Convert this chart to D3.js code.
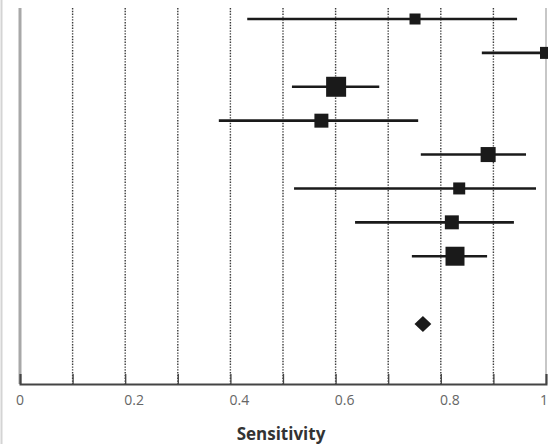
<!DOCTYPE html>
<html>
<head>
<meta charset="utf-8">
<script src="https://cdn.jsdelivr.net/npm/d3@7"></script>
<style>
  html, body { margin: 0; padding: 0; background: #fff; }
  svg { display: block; }
</style>
</head>
<body>
<svg id="chart" width="548" height="444"></svg>
<script>
// ---- data ----
const studies = ["Study 1", "Study 2", "Study 3", "Study 4", "Study 5", "Study 6", "Study 7", "Study 8"];
const sensitivity = [0.751, 1.0, 0.601, 0.573, 0.890, 0.835, 0.821, 0.827];
const ciLower = [0.432, 0.878, 0.517, 0.378, 0.762, 0.521, 0.637, 0.745];
const ciUpper = [0.945, 1.0, 0.683, 0.757, 0.962, 0.981, 0.939, 0.888];
const weights = [6.4, 7.6, 21.1, 10.3, 11.9, 7.6, 10.3, 19.0];
const pooledLabel = "Pooled";
const pooled = [0.766, 0.750, 0.782]; // estimate, lower, upper
const xTicks = [0, 0.2, 0.4, 0.6, 0.8, 1];
const xTickLabels = ["0", "0.2", "0.4", "0.6", "0.8", "1"];
const gridValues = [0.1, 0.2, 0.3, 0.4, 0.5, 0.6, 0.7, 0.8, 0.9];
const xTitle = "Sensitivity";

// ---- layout ----
const svg = d3.select("#chart");
const plotLeft = 20, plotRight = 546, plotTop = 8, axisY = 384;

const x = d3.scaleLinear().domain([0, 1]).range([plotLeft, plotRight]);
const y = d3.scalePoint().domain([...studies, "_gap", pooledLabel]).range([19, 324]);
const size = d3.scaleSqrt().domain([0, d3.max(weights)]).range([0, 20]);

// outer thin light border at far left
svg.append("line").attr("x1", 1.5).attr("x2", 1.5).attr("y1", 0).attr("y2", 444)
  .attr("stroke", "#d4d4d4").attr("stroke-width", 2);

// dotted grid lines
svg.append("g").selectAll("line").data(gridValues).join("line")
  .attr("x1", d => x(d)).attr("x2", d => x(d))
  .attr("y1", plotTop).attr("y2", axisY)
  .attr("stroke", "#3a3a3a").attr("stroke-width", 1.4)
  .attr("stroke-dasharray", "1.4,1.4");

// left vertical axis (gray)
svg.append("line").attr("x1", x(0)).attr("x2", x(0)).attr("y1", plotTop).attr("y2", axisY)
  .attr("stroke", "#a8a8a8").attr("stroke-width", 3);

// right border line
svg.append("line").attr("x1", x(1)).attr("x2", x(1)).attr("y1", plotTop).attr("y2", axisY)
  .attr("stroke", "#b5b5b5").attr("stroke-width", 1.5);

// x axis
const xAxis = d3.axisBottom(x)
  .tickValues(gridValues.concat([0, 1]))
  .tickSize(-10)
  .tickFormat("");
const gx = svg.append("g").attr("transform", `translate(0,${axisY})`).call(xAxis);
gx.select(".domain").attr("stroke", "#444").attr("stroke-width", 2);
gx.selectAll(".tick line").attr("stroke", "#444").attr("stroke-width", 1.3);

// tick labels
svg.append("g").selectAll("text").data(xTicks).join("text")
  .attr("x", (d, i) => i === xTicks.length - 1 ? 548 : x(d) + (i === 0 ? 0 : 9))
  .attr("y", 405)
  .attr("text-anchor", (d, i) => i === xTicks.length - 1 ? "end" : "middle")
  .attr("font-family", "Open Sans, sans-serif")
  .attr("font-size", 14)
  .attr("fill", "#666")
  .text((d, i) => xTickLabels[i]);

// axis title
svg.append("text")
  .attr("x", x(0.5) - 2).attr("y", 440)
  .attr("text-anchor", "middle")
  .attr("font-family", "Open Sans, sans-serif")
  .attr("font-weight", 700)
  .attr("font-size", 17)
  .attr("fill", "#333")
  .text(xTitle);

// confidence interval lines
const rows = studies.map((s, i) => ({ s, est: sensitivity[i], lo: ciLower[i], hi: ciUpper[i], w: weights[i] }));
svg.append("g").selectAll("line").data(rows).join("line")
  .attr("x1", d => x(d.lo)).attr("x2", d => x(d.hi))
  .attr("y1", d => y(d.s)).attr("y2", d => y(d.s))
  .attr("stroke", "#1a1a1a").attr("stroke-width", 2.6);

// squares
svg.append("g").selectAll("rect").data(rows).join("rect")
  .attr("x", d => x(d.est) - size(d.w) / 2)
  .attr("y", d => y(d.s) - size(d.w) / 2)
  .attr("width", d => size(d.w)).attr("height", d => size(d.w))
  .attr("fill", "#1a1a1a");

// pooled diamond
const py = y(pooledLabel);
svg.append("path")
  .attr("d", `M${x(pooled[1])},${py} L${x(pooled[0])},${py - 8} L${x(pooled[2])},${py} L${x(pooled[0])},${py + 8} Z`)
  .attr("fill", "#1a1a1a");
</script>
</body>
</html>
